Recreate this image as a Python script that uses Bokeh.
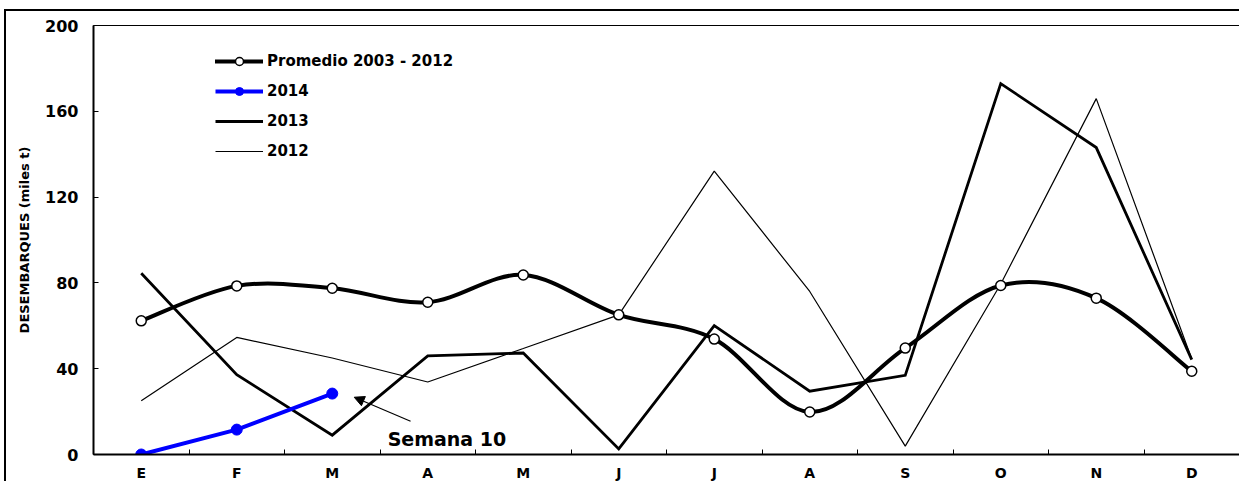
from bokeh.plotting import figure
from bokeh.models import (Range1d, FixedTicker, Legend, LegendItem, Arrow, NormalHead,
                          ColumnDataSource)
from bokeh.core.properties import value
from bokeh.embed import file_html
from bokeh.resources import INLINE

# ---------------- data ----------------
months = ["E", "F", "M", "A", "M", "J", "J", "A", "S", "O", "N", "D"]
promedio = [62.3, 78.6, 77.5, 71.0, 83.7, 65.1, 53.8, 19.8, 49.6, 78.8, 72.9, 38.8]
d2014 = [0.0, 11.6, 28.4]
d2013 = [84.5, 37.2, 9.0, 46.0, 47.3, 2.6, 60.1, 29.5, 36.9, 172.9, 143.1, 44.2]
d2012 = [25.1, 54.6, 45.0, 33.8, 49.4, 65.1, 132.1, 76.0, 3.9, 79.5, 165.9, 44.5]
y_ticks = [0, 40, 80, 120, 160, 200]
note_text = "Semana 10"
note_pos = (3.58, 7.0)
arrow_from = (3.82, 15.5)
arrow_to = (3.23, 26.7)

x_all = list(range(1, len(months) + 1))
FONT = "DejaVu Sans"

p = figure(width=1235, height=472, output_backend="svg", toolbar_location=None,
           x_range=Range1d(0.5, 12.5), y_range=Range1d(0, 200),
           min_border_left=87, min_border_right=2, min_border_top=14, min_border_bottom=28)
p.styles = {"border-top": "2px solid #000", "border-left": "2px solid #000",
            "margin-left": "4px", "margin-top": "9px"}

p.background_fill_color = "white"
p.border_fill_color = "white"
p.outline_line_color = "black"
p.outline_line_width = 1
p.xgrid.visible = False
p.ygrid.visible = False

# axes
xa = p.xaxis[0]
xa.ticker = FixedTicker(ticks=x_all, minor_ticks=[i + 0.5 for i in x_all[:-1]])
xa.major_label_overrides = {i: m for i, m in zip(x_all, months)}
xa.major_tick_in = 0
xa.major_tick_out = 0
xa.minor_tick_in = 5
xa.minor_tick_out = 0
xa.minor_tick_line_color = "black"
xa.axis_line_width = 2
xa.axis_line_color = "black"
xa.major_label_standoff = 10
xa.major_label_text_font = FONT
xa.major_label_text_font_style = "bold"
xa.major_label_text_font_size = "14px"
xa.major_label_text_color = "black"

ya = p.yaxis[0]
ya.ticker = FixedTicker(ticks=y_ticks)
ya.major_tick_in = 5
ya.major_tick_out = 0
ya.minor_tick_in = 0
ya.minor_tick_out = 0
ya.axis_line_width = 2
ya.axis_line_color = "black"
ya.major_label_standoff = 15
ya.major_label_text_font = FONT
ya.major_label_text_font_style = "bold"
ya.major_label_text_font_size = "16px"
ya.major_label_text_color = "black"
ya.axis_label = "DESEMBARQUES (miles t)"
ya.axis_label_text_font = FONT
ya.axis_label_text_font_style = "bold"
ya.axis_label_text_font_size = "13px"
ya.axis_label_text_color = "black"
ya.axis_label_standoff = 10

# 2012 thin line
r2012 = p.line(x_all, d2012, line_color="black", line_width=1.2)
# 2013 thick line
r2013 = p.line(x_all, d2013, line_color="black", line_width=2.8, line_join="miter")

# promedio smoothed curve (Catmull-Rom -> Bezier control points)
n = len(promedio)
x0s, y0s, x1s, y1s, cx0, cy0, cx1, cy1 = [], [], [], [], [], [], [], []
for i in range(n - 1):
    pa = (x_all[max(i - 1, 0)], promedio[max(i - 1, 0)])
    pb = (x_all[i], promedio[i])
    pc = (x_all[i + 1], promedio[i + 1])
    pd = (x_all[min(i + 2, n - 1)], promedio[min(i + 2, n - 1)])
    x0s.append(pb[0]); y0s.append(pb[1])
    x1s.append(pc[0]); y1s.append(pc[1])
    cx0.append(pb[0] + (pc[0] - pa[0]) / 6.0); cy0.append(pb[1] + (pc[1] - pa[1]) / 6.0)
    cx1.append(pc[0] - (pd[0] - pb[0]) / 6.0); cy1.append(pc[1] - (pd[1] - pb[1]) / 6.0)
bsrc = ColumnDataSource(dict(x0=x0s, y0=y0s, x1=x1s, y1=y1s, cx0=cx0, cy0=cy0, cx1=cx1, cy1=cy1))
rprom_line = p.bezier(x0="x0", y0="y0", x1="x1", y1="y1", cx0="cx0", cy0="cy0",
                      cx1="cx1", cy1="cy1", source=bsrc, line_color="black",
                      line_width=4, line_cap="round")
rprom_pts = p.scatter(x_all, promedio, size=10, marker="circle", fill_color="white",
                      line_color="black", line_width=1.5)

# 2014 blue
x14 = x_all[:len(d2014)]
r2014_line = p.line(x14, d2014, line_color="#0000FF", line_width=4)
r2014_pts = p.scatter(x14, d2014, size=11, marker="circle", fill_color="#0000FF",
                      line_color="#0000FF")

# annotation
p.add_layout(Arrow(end=NormalHead(size=10, fill_color="black", line_color="black"),
                   x_start=arrow_from[0], y_start=arrow_from[1],
                   x_end=arrow_to[0], y_end=arrow_to[1],
                   line_color="black", line_width=1.2))
p.text(x=[note_pos[0]], y=[note_pos[1]], text=[note_text], text_font=value(FONT),
       text_font_style="bold", text_font_size="19px", text_color="black",
       text_baseline="alphabetic", text_align="left")

legend = Legend(items=[
    LegendItem(label="Promedio 2003 - 2012", renderers=[rprom_line, rprom_pts]),
    LegendItem(label="2014", renderers=[r2014_line, r2014_pts]),
    LegendItem(label="2013", renderers=[r2013]),
    LegendItem(label="2012", renderers=[r2012]),
], location=(122, 293), padding=0, spacing=10, glyph_width=48, glyph_height=20,
    label_standoff=4, label_text_font=FONT, label_text_font_style="bold",
    label_text_font_size="15px", label_text_color="black",
    border_line_color=None, background_fill_alpha=0, margin=0)
p.add_layout(legend)

open("out.html", "w").write(file_html(p, INLINE))
